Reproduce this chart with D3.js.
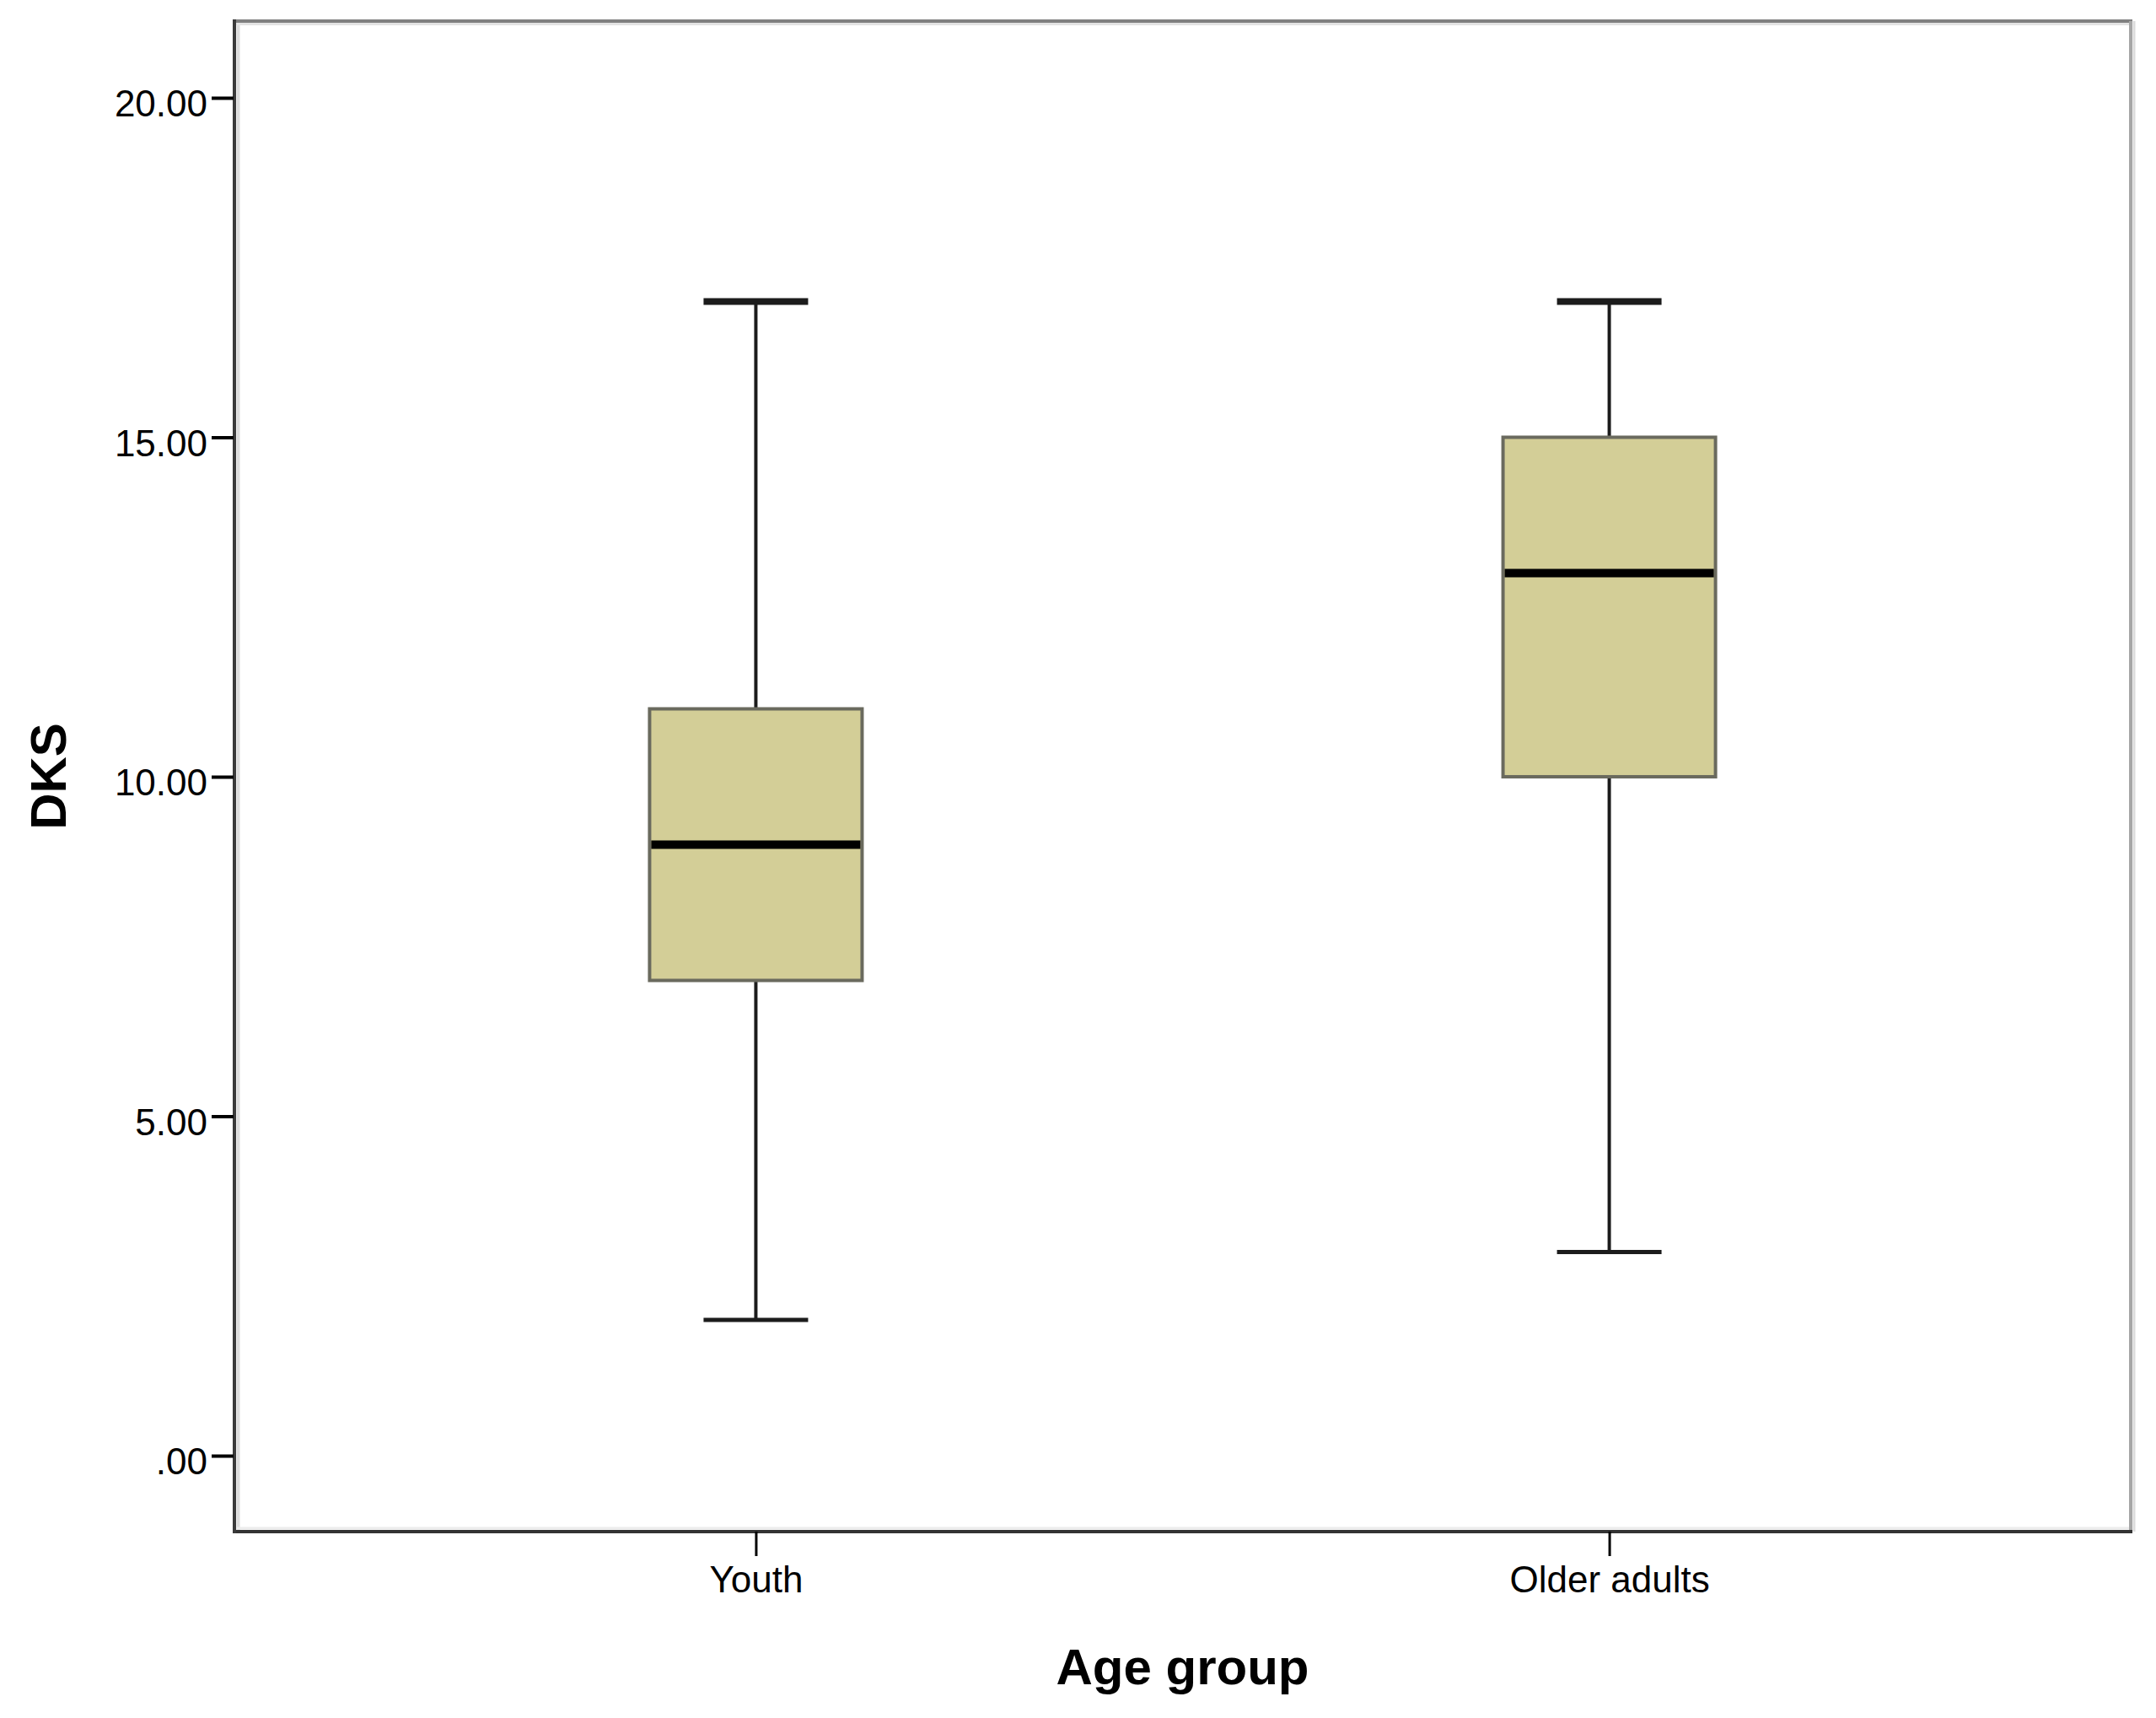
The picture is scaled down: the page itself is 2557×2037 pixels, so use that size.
<!DOCTYPE html>
<html>
<head>
<meta charset="utf-8">
<script src="https://cdn.jsdelivr.net/npm/d3@7"></script>
<style>
  html, body { margin: 0; padding: 0; background: #fff; }
  svg { display: block; }
</style>
</head>
<body>
<svg id="chart" width="2557" height="2037"></svg>
<script>
// ---- data ----
const categories = ["Youth", "Older adults"];
const whiskerLow = [2, 3];
const q1 = [7, 10];
const median = [9, 13];
const q3 = [11, 15];
const whiskerHigh = [17, 17];
const yTicks = [0, 5, 10, 15, 20];
const xTitle = "Age group";
const yTitle = "DKS";

(function () {
// ---- layout ----
const W = 2557, H = 2037;
const pLeft = 278, pRight = 2527, pTop = 25, pBottom = 1816;
const FONT = "Arial, 'Liberation Sans', Helvetica, sans-serif";

const svg = d3.select("#chart");
svg.append("rect").attr("width", W).attr("height", H).attr("fill", "#fff");

const y = d3.scaleLinear().domain([-1.118, 21.13]).range([pBottom, pTop]);
const x = d3.scalePoint().domain(categories).range([pLeft, pRight]).padding(0.611);
const step = x.step();
const boxW = step * 0.249;
const capW = 124;

const data = categories.map((c, i) => ({
  c, lo: whiskerLow[i], q1: q1[i], med: median[i], q3: q3[i], hi: whiskerHigh[i]
}));

// frame (SPSS-style)
const frame = svg.append("g");
frame.append("line").attr("x1", 282.5).attr("x2", 282.5).attr("y1", pTop).attr("y2", pBottom)
  .attr("stroke", "#dcdcdc").attr("stroke-width", 4);
frame.append("line").attr("x1", pLeft).attr("x2", pRight).attr("y1", 28.5).attr("y2", 28.5)
  .attr("stroke", "#e3e3e3").attr("stroke-width", 3);
frame.append("line").attr("x1", pLeft).attr("x2", pRight).attr("y1", pBottom - 4).attr("y2", pBottom - 4)
  .attr("stroke", "#ececec").attr("stroke-width", 3);
frame.append("line").attr("x1", pLeft).attr("x2", pRight + 2).attr("y1", pTop).attr("y2", pTop)
  .attr("stroke", "#808080").attr("stroke-width", 4);
frame.append("line").attr("x1", pRight + 4).attr("x2", pRight + 4).attr("y1", pTop).attr("y2", pBottom)
  .attr("stroke", "#dcdcdc").attr("stroke-width", 3);
frame.append("line").attr("x1", pRight).attr("x2", pRight).attr("y1", pTop).attr("y2", pBottom)
  .attr("stroke", "#a6a6a6").attr("stroke-width", 4);
frame.append("line").attr("x1", pLeft).attr("x2", pRight + 2).attr("y1", pBottom).attr("y2", pBottom)
  .attr("stroke", "#333").attr("stroke-width", 4);
frame.append("line").attr("x1", pLeft).attr("x2", pLeft).attr("y1", pTop - 2).attr("y2", pBottom + 2)
  .attr("stroke", "#3a3a3a").attr("stroke-width", 4);

// y axis
const fmt = v => d3.format(".2f")(v).replace(/^0\./, ".");
const yAxis = svg.append("g").attr("transform", `translate(${pLeft - 1},0)`)
  .call(d3.axisLeft(y).tickValues(yTicks).tickFormat(fmt).tickSize(26).tickPadding(5));
yAxis.select(".domain").remove();
yAxis.selectAll(".tick line").attr("stroke", "#000").attr("stroke-width", 4);
yAxis.selectAll(".tick text").attr("font-family", FONT).attr("font-size", 44)
  .attr("fill", "#000").attr("dy", 22);

// x axis
const xAxis = svg.append("g").attr("transform", `translate(0,${pBottom})`)
  .call(d3.axisBottom(x).tickSize(29).tickPadding(12));
xAxis.select(".domain").remove();
xAxis.selectAll(".tick line").attr("stroke", "#000").attr("stroke-width", 3);
xAxis.selectAll(".tick text").attr("font-family", FONT).attr("font-size", 44).attr("fill", "#000");

// boxes
const g = svg.append("g");
const b = g.selectAll("g.box").data(data).join("g").attr("class", "box");

// whiskers
b.append("line").attr("x1", d => x(d.c)).attr("x2", d => x(d.c))
  .attr("y1", d => y(d.hi)).attr("y2", d => y(d.q3))
  .attr("stroke", "#1c1c1c").attr("stroke-width", 4);
b.append("line").attr("x1", d => x(d.c)).attr("x2", d => x(d.c))
  .attr("y1", d => y(d.q1)).attr("y2", d => y(d.lo))
  .attr("stroke", "#1c1c1c").attr("stroke-width", 4);
// caps
b.append("line").attr("x1", d => x(d.c) - capW / 2).attr("x2", d => x(d.c) + capW / 2)
  .attr("y1", d => y(d.hi)).attr("y2", d => y(d.hi))
  .attr("stroke", "#1c1c1c").attr("stroke-width", 8);
b.append("line").attr("x1", d => x(d.c) - capW / 2).attr("x2", d => x(d.c) + capW / 2)
  .attr("y1", d => y(d.lo)).attr("y2", d => y(d.lo))
  .attr("stroke", "#1c1c1c").attr("stroke-width", 5);
// box
b.append("rect").attr("x", d => x(d.c) - boxW / 2).attr("width", boxW)
  .attr("y", d => y(d.q3)).attr("height", d => y(d.q1) - y(d.q3))
  .attr("fill", "#d3ce97").attr("stroke", "#6a6a5e").attr("stroke-width", 4);
// median
b.append("line").attr("x1", d => x(d.c) - boxW / 2 + 2).attr("x2", d => x(d.c) + boxW / 2 - 2)
  .attr("y1", d => y(d.med)).attr("y2", d => y(d.med))
  .attr("stroke", "#000").attr("stroke-width", 10);

// axis titles
svg.append("text").attr("x", (pLeft + pRight) / 2).attr("y", 1997)
  .attr("text-anchor", "middle").attr("font-family", FONT).attr("font-weight", "bold")
  .attr("font-size", 60).attr("fill", "#000").text(xTitle);
svg.append("text").attr("transform", `translate(78,${(pTop + pBottom) / 2}) rotate(-90)`)
  .attr("text-anchor", "middle").attr("font-family", FONT).attr("font-weight", "bold")
  .attr("font-size", 60).attr("fill", "#000").text(yTitle);
})();
</script>
</body>
</html>
